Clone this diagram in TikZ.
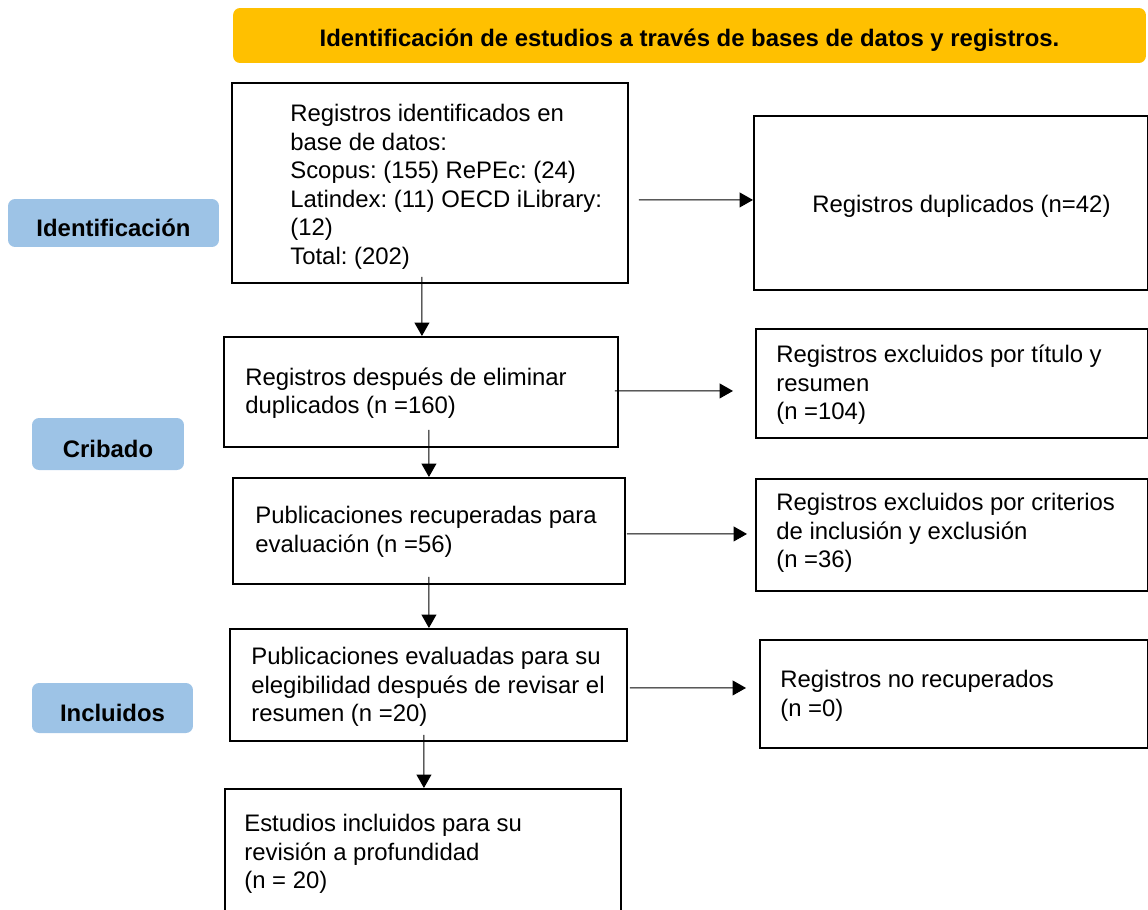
\documentclass[tikz,border=0pt]{standalone}
\usepackage{fontspec}
\setmainfont{Liberation Sans}
\frenchspacing
\usetikzlibrary{arrows.meta}
\definecolor{gold}{HTML}{FFC000}
\definecolor{lblue}{HTML}{9DC3E6}
\newcommand{\dn}[1]{\raisebox{-0.09cm}[\height][\depth]{#1}}
\tikzset{
  box/.style={draw=black, line width=1.1pt, anchor=north west, inner sep=0pt},
  txt/.style={anchor=west, inner sep=0pt, align=left, font=\fontsize{13.6}{16.2}\selectfont},
  phase/.style={fill=lblue, rounded corners=4pt, inner sep=0pt, font=\fontsize{13.6}{16.2}\selectfont\bfseries},
  banner/.style={fill=gold, rounded corners=4pt, inner sep=0pt, font=\fontsize{13.6}{16.2}\selectfont\bfseries},
  arr/.style={line width=0.6pt, -{Triangle[length=0.27cm,width=0.3cm]}}
}
\begin{document}
\begin{tikzpicture}[x=0.02cm,y=-0.02cm]
\useasboundingbox (0,0) rectangle (1148,909);
% banner
\node[banner, minimum width=18.26cm, minimum height=1.10cm] (hdr) at (689.5,35.5) {\dn{Identificación de estudios a través de bases de datos y registros.}};
% phases
\node[phase, minimum width=4.22cm, minimum height=0.96cm] (pid) at (113.5,223) {\dn{Identificación}};
\node[phase, minimum width=3.04cm, minimum height=1.04cm] (pcr) at (108,444) {\dn{Cribado}};
\node[phase, minimum width=3.22cm, minimum height=1.00cm] (pin) at (112.5,708) {\dn{Incluidos}};
% boxes
\node[box, minimum width=7.92cm, minimum height=4.00cm] (b1) at (231,82) {};
\node[box, minimum width=7.88cm, minimum height=3.48cm] (r1) at (753,115) {};
\node[box, minimum width=7.88cm, minimum height=2.20cm] (b2) at (223,336) {};
\node[box, minimum width=7.84cm, minimum height=2.18cm] (r2) at (755,328) {};
\node[box, minimum width=7.84cm, minimum height=2.12cm] (b3) at (232,477) {};
\node[box, minimum width=7.84cm, minimum height=2.24cm] (r3) at (755,478) {};
\node[box, minimum width=7.94cm, minimum height=2.24cm] (b4) at (229,628) {};
\node[box, minimum width=7.76cm, minimum height=2.16cm] (r4) at (759,639) {};
\node[box, minimum width=7.92cm, minimum height=2.80cm] (b5) at (224,788) {};
% texts
\node[txt] (b1t) at ([shift={(1.18cm,-0.08cm)}]b1.west) {Registros identificados en\\ base de datos:\\ Scopus: (155) RePEc: (24)\\ Latindex: (11) OECD iLibrary:\\ (12)\\ Total: (202)};
\node[txt] (r1t) at ([shift={(1.18cm,-0.06cm)}]r1.west) {Registros duplicados (n=42)};
\node[txt] (b2t) at ([shift={(0.44cm,-0.02cm)}]b2.west) {Registros después de eliminar\\ duplicados (n =160)};
\node[txt] (r2t) at ([shift={(0.42cm,-0.03cm)}]r2.west) {Registros excluidos por título y\\ resumen\\ (n =104)};
\node[txt] (b3t) at ([shift={(0.46cm,-0.02cm)}]b3.west) {Publicaciones recuperadas para\\ evaluación (n =56)};
\node[txt] (r3t) at ([shift={(0.42cm,0.04cm)}]r3.west) {Registros excluidos por criterios\\ de inclusión y exclusión\\ (n =36)};
\node[txt] (b4t) at ([shift={(0.44cm,-0.04cm)}]b4.west) {Publicaciones evaluadas para su\\ elegibilidad después de revisar el\\ resumen (n =20)};
\node[txt] (r4t) at ([shift={(0.42cm,-0.04cm)}]r4.west) {Registros no recuperados\\ (n =0)};
\node[txt] (b5t) at ([shift={(0.40cm,0.10cm)}]b5.west) {Estudios incluidos para su\\ revisión a profundidad\\ (n = 20)};
% horizontal arrows
\draw[arr] ([shift={(0.20cm,-0.34cm)}]b1.east) -- ([shift={(0cm,0.06cm)}]r1.west);
\draw[arr] ([shift={(-0.08cm,0.02cm)}]b2.east) -- ([shift={(-0.44cm,-0.15cm)}]r2.west);
\draw[arr] ([shift={(0.02cm,-0.06cm)}]b3.east) -- ([shift={(-0.16cm,0.02cm)}]r3.west);
\draw[arr] ([shift={(0.04cm,-0.06cm)}]b4.east) -- ([shift={(-0.26cm,0.12cm)}]r4.west);
% vertical arrows
\draw[arr] ([shift={(-0.16cm,0.14cm)}]b1.south) -- ([shift={(0.02cm,0cm)}]b2.north);
\draw[arr] ([shift={(0.16cm,0.36cm)}]b2.south) -- (b3.north);
\draw[arr] ([shift={(0cm,0.16cm)}]b3.south) -- ([shift={(0.01cm,0cm)}]b4.north);
\draw[arr] ([shift={(-0.09cm,0.14cm)}]b4.south) -- ([shift={(0.02cm,0cm)}]b5.north);
\end{tikzpicture}
\end{document}
